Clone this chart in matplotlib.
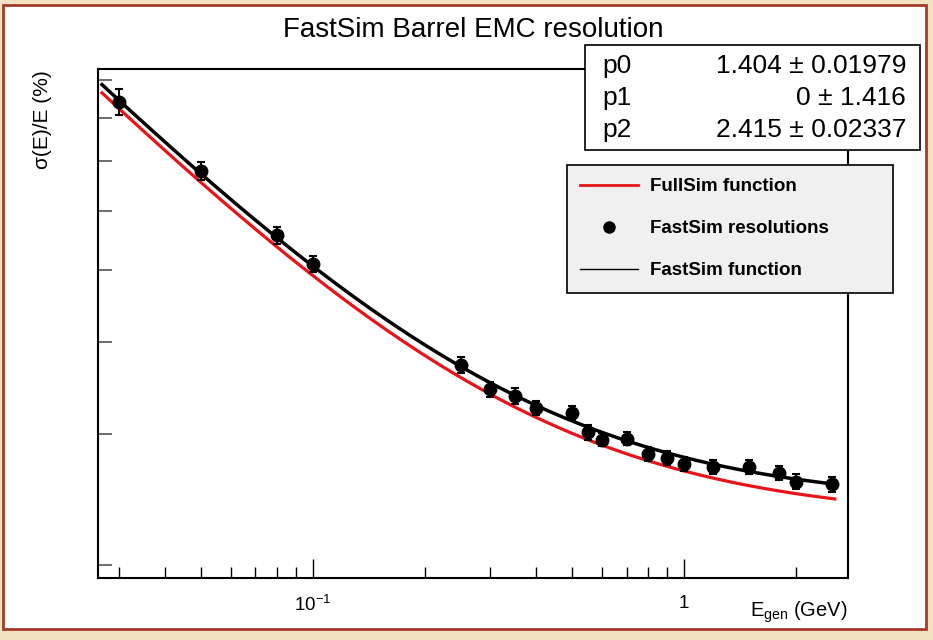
import matplotlib
import matplotlib.pyplot as plt
from matplotlib.patches import Rectangle
from matplotlib.lines import Line2D
import numpy as np

matplotlib.rcParams.update({
	"font.family": ["Liberation Sans", "DejaVu Sans"],
	"mathtext.fontset": "custom",
	"mathtext.rm": "Liberation Sans",
	"mathtext.it": "Liberation Sans:italic",
	"mathtext.bf": "Liberation Sans:bold",
})

W, H = 933, 640

# FastSim resolution points (GeV, %)
energies = [0.03, 0.05, 0.08, 0.1, 0.25, 0.3, 0.35, 0.4, 0.5, 0.55,
			0.6, 0.7, 0.8, 0.9, 1.0, 1.2, 1.5, 1.8, 2.0, 2.5]
resolutions = [8.41, 6.80, 5.56, 5.09, 3.72, 3.45, 3.38, 3.26, 3.21, 3.02,
			   2.95, 2.96, 2.82, 2.79, 2.74, 2.71, 2.71, 2.66, 2.59, 2.57]
res_errors = [0.34, 0.19, 0.15, 0.13, 0.09, 0.08, 0.08, 0.07, 0.07, 0.07,
			  0.06, 0.06, 0.06, 0.06, 0.06, 0.06, 0.06, 0.06, 0.06, 0.06]

# fit parameters: sigma/E = p0/sqrt(E) (+) p1/E (+) p2
par_names = ["p0", "p1", "p2"]
fast_pars = [1.404, 0.0, 2.415]
fast_errs = ["0.01979", "1.416", "0.02337"]
fast_vals = ["1.404", "0", "2.415"]
full_pars = [1.371, 0.0, 2.30]


def reso(e, p):
	return np.sqrt(p[0]**2 / e + (p[1] / e)**2 + p[2]**2)


def fx(x):
	return x / W


def fy(y):
	return 1 - y / H


fig = plt.figure(figsize=(W / 100, H / 100), dpi=100)
fig.patch.set_facecolor("#f2e2c2")
fig.add_artist(Rectangle((fx(3), fy(629)), fx(923), 624 / H, transform=fig.transFigure,
						 facecolor="white", edgecolor="#a33a2c", lw=2, zorder=-5))

ax = fig.add_axes([fx(98), fy(578), fx(750), 509 / H])
ax.set_xscale("log")
ax.set_yscale("log")

e_grid = np.geomspace(0.027, 2.55, 400)
ax.plot(e_grid, reso(e_grid, full_pars), color="#e8141a", lw=2.3)
ax.plot(e_grid, reso(e_grid, fast_pars), color="black", lw=2.5)
ax.errorbar(energies, resolutions, yerr=res_errors, fmt="o", color="black",
			markersize=9, elinewidth=1.5, capsize=3, capthick=1.5)

ax.set_xlim(0.02634, 2.767)
ax.set_ylim(1.921, 9.32)

# x axis ticks
ax.set_xticks([0.1, 1])
ax.set_xticklabels([r"$10^{-1}$", "1"], fontsize=13.5)
ax.set_xticks([0.03, 0.04, 0.05, 0.06, 0.07, 0.08, 0.09,
			   0.2, 0.3, 0.4, 0.5, 0.6, 0.7, 0.8, 0.9, 2], minor=True)
ax.xaxis.set_minor_formatter(matplotlib.ticker.NullFormatter())
ax.tick_params(axis="x", which="major", direction="in", length=14, width=1, pad=12)
ax.tick_params(axis="x", which="minor", direction="in", length=8, width=1)

# y axis ticks without labels
ax.set_yticks([2, 3, 4, 5, 6, 7, 8, 9])
ax.set_yticklabels([])
ax.yaxis.set_minor_locator(matplotlib.ticker.NullLocator())
ax.tick_params(axis="y", which="major", direction="in", length=10, width=1.2, color="#555555")

for s in ax.spines.values():
	s.set_linewidth(1.5)

fig.text(fx(473), fy(30), "FastSim Barrel EMC resolution", ha="center", va="center", fontsize=20)
fig.text(fx(42), fy(70), "σ(E)/E (%)", rotation=90, ha="center", va="top", fontsize=15)
fig.text(fx(848), fy(612), r"E$_{\mathrm{gen}}$ (GeV)", ha="right", va="center", fontsize=14.5)

# fit statistics box
fig.add_artist(Rectangle((fx(585), fy(150)), fx(335), 105 / H, transform=fig.transFigure,
						 facecolor="white", edgecolor="black", lw=1.2, zorder=3))
for i, name in enumerate(par_names):
	yy = fy(66 + i * 32)
	fig.text(fx(602), yy, name, ha="left", va="center", fontsize=19, zorder=4)
	fig.text(fx(906), yy, fast_vals[i] + " ± " + fast_errs[i], ha="right", va="center",
			 fontsize=19, zorder=4)

# legend
handles = [
	Line2D([], [], color="#e8141a", lw=2),
	Line2D([], [], color="black", marker="o", markersize=8, lw=0),
	Line2D([], [], color="black", lw=1),
]
labels = ["FullSim function", "FastSim resolutions", "FastSim function"]
leg = fig.legend(handles, labels, loc="upper left", bbox_to_anchor=(fx(567), fy(293), fx(326), 128 / H),
				 mode="expand", prop={"weight": "bold", "size": 13.5}, handlelength=3.1,
				 handletextpad=0.6, labelspacing=1.33, borderpad=0.7, borderaxespad=0,
				 fancybox=False, framealpha=1, facecolor="#f0f0f0", edgecolor="black")
leg.get_frame().set_linewidth(1.2)
leg.set_zorder(5)

plt.savefig("out.png", dpi=100, facecolor=fig.get_facecolor())
plt.close()
